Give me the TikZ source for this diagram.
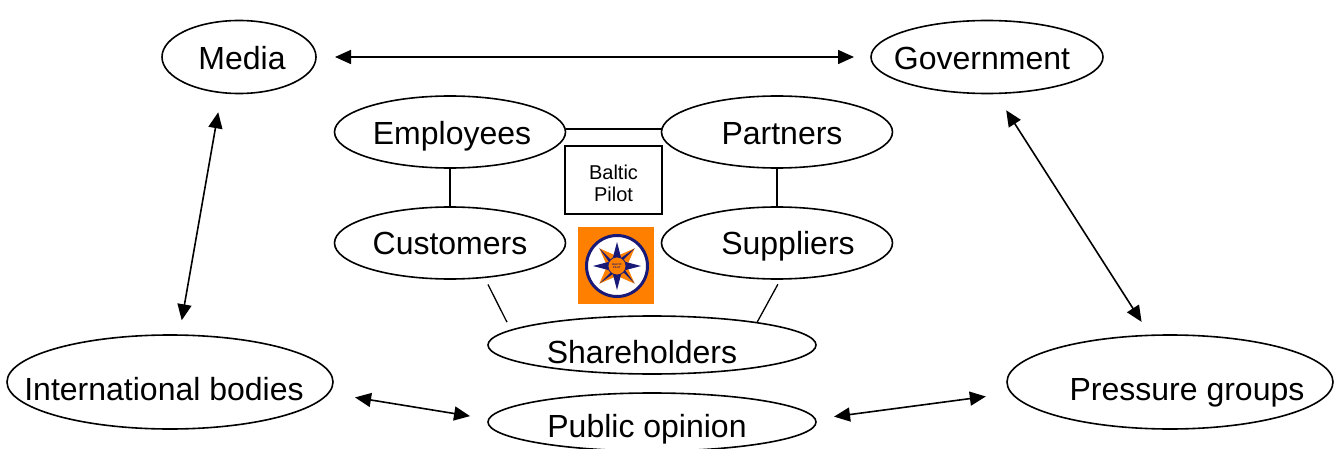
\documentclass[tikz,border=0pt]{standalone}
\usepackage{fontspec}
\setmainfont{Liberation Sans}
\usetikzlibrary{arrows.meta,shapes.geometric}
\definecolor{logoorange}{RGB}{255,128,0}
\definecolor{logonavy}{RGB}{25,25,120}
\tikzset{
	bubble/.style={draw, ellipse, line width=1.6, inner sep=0, outer sep=0},
	wide/.style={bubble, minimum width=231, minimum height=72},
	every label/.style={font=\fontsize{32}{32}\selectfont, text height=23, text depth=7, inner sep=0},
	arrowline/.style={line width=1.6, {Triangle[length=16,width=14]}-{Triangle[length=16,width=14]}},
	plainline/.style={line width=1.3}
}
\begin{document}
\begin{tikzpicture}[x=1pt, y=-1pt]
	\useasboundingbox (0,0) rectangle (1338,449);
	%outer ring
	\node[bubble, minimum width=154, minimum height=73, label={[xshift=3,yshift=-5]center:Media}] (media) at (239,57) {};
	\node[bubble, minimum width=232, minimum height=73, label={[xshift=-5,yshift=-5]center:Government}] (government) at (987,57) {};
	\node[bubble, minimum width=326, minimum height=94, label={[xshift=-6,yshift=-10]center:International bodies}] (international) at (170,382) {};
	\node[bubble, minimum width=326, minimum height=94, label={[xshift=17,yshift=-10]center:Pressure groups}] (pressure) at (1170,382) {};
	\node[bubble, minimum width=328, minimum height=58, label={[xshift=-5,yshift=-7]center:Public opinion}] (public) at (652,422) {};
	%inner group
	\node[wide, label={[xshift=2,yshift=-5]center:Employees}] (employees) at (450,132) {};
	\node[wide, label={[xshift=5,yshift=-5]center:Partners}] (partners) at (777,132) {};
	\node[wide, label={[xshift=0,yshift=-3]center:Customers}] (customers) at (450,243) {};
	\node[wide, label={[xshift=11,yshift=-3]center:Suppliers}] (suppliers) at (777,243) {};
	\node[bubble, minimum width=328, minimum height=58, label={[xshift=-10,yshift=-10]center:Shareholders}] (shareholders) at (652,345) {};
	\node[draw, line width=1.6, minimum width=97, minimum height=68, inner sep=0, label={[font=\fontsize{20}{22}\selectfont, align=center, text height=, text depth=, yshift=-3]center:Baltic\\Pilot}] (baltic) at (613.5,180) {};
	%arrows
	\draw[arrowline, shorten <=19, shorten >=17] (media.east) -- (government.west);
	\draw[arrowline, shorten <=20, shorten >=15] (media.244) -- (international.79);
	\draw[arrowline, shorten <=20, shorten >=16] (government.-77) -- (pressure.113);
	\draw[arrowline, shorten <=27, shorten >=19] (international.-4) -- (public.179);
	\draw[arrowline, shorten <=19, shorten >=26] (public.1) -- (pressure.184.7);
	%lines
	\draw[plainline] ([yshift=3]employees.east) -- ([yshift=3]partners.west);
	\draw[plainline] (employees.south) -- (customers.north);
	\draw[plainline] (partners.south) -- (suppliers.north);
	\draw[plainline, shorten <=8, shorten >=9] (customers.-45) -- (shareholders.174.5);
	\draw[plainline, shorten <=6] (suppliers.-84) -- (shareholders.12.5);
	%logo
	\fill[logoorange] (578,227) rectangle (654,304);
	\draw[logonavy, fill=white, line width=3] (617,266) circle (30.5);
	\foreach \a in {45,135,225,315} {
		\fill[logoorange, shift={(617,266)}, rotate=\a] (0,0) -- (7,-7) -- (25,0) -- (7,7) -- cycle;
		\fill[logonavy, shift={(617,266)}, rotate=\a] (0,0) -- (7,-3) -- (25,0) -- cycle;
	}
	\foreach \a in {0,90,180,270}
	\fill[logonavy, shift={(617,266)}, rotate=\a] (5,-5) -- (24,0) -- (5,5) -- cycle;
	\node[circle, draw=logonavy, fill=logoorange, line width=.8, minimum size=18, inner sep=0, align=center, text=logonavy, font=\fontsize{2.6}{3}\selectfont\bfseries] (seal) at (617,266) {BALTIC\\PILOT};
\end{tikzpicture}
\end{document}
